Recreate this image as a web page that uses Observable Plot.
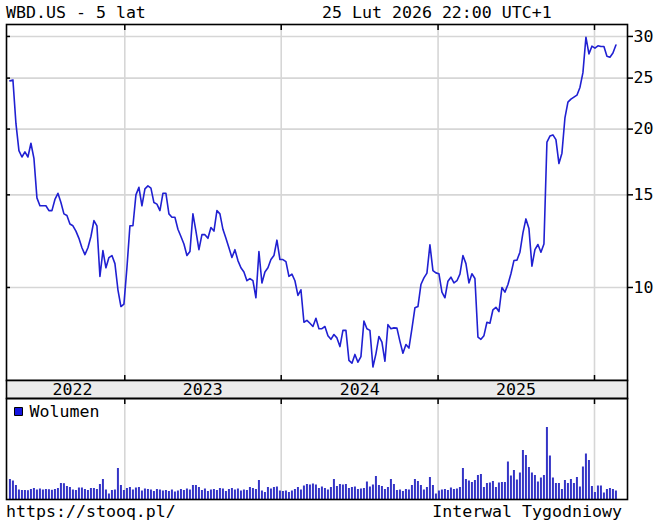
<!DOCTYPE html>
<html><head><meta charset="utf-8">
<script src="https://cdn.jsdelivr.net/npm/d3@7"></script>
<script src="https://cdn.jsdelivr.net/npm/@observablehq/plot@0.6"></script>
<style>
body{margin:0;background:#fff;}
#wrap{position:relative;width:654px;height:524px;font-family:"DejaVu Sans Mono",monospace;font-size:16.6px;color:#000;overflow:hidden;}
.t{position:absolute;white-space:pre;line-height:1;}
#p,#b,#v{position:absolute;left:0;}
</style></head><body>
<div id="wrap">
<div class="t" style="left:6px;top:5px">WBD.US - 5 lat</div>
<div class="t" style="left:322px;top:5px">25 Lut 2026 22:00 UTC+1</div>
<div id="p" style="top:0"></div>
<div id="b" style="top:379px"></div>
<div id="v" style="top:398px"></div>
<div class="t" style="left:6px;top:504px">https://stooq.pl/</div>
<div class="t" style="right:32px;top:504px">Interwal Tygodniowy</div>
</div>
<script>
const startDate = "2022-04-08";
const close = [
24.7,24.8,20.5,18.2,17.7,18.1,17.7,18.8,17.6,14.8,
14.3,14.3,14.3,14.0,14.0,14.7,15.1,14.5,13.8,13.7,
13.2,13.1,12.8,12.4,11.9,11.55,11.9,12.5,13.4,13.1,
10.5,11.75,10.9,11.4,11.5,11.1,9.9,9.2,9.3,10.9,
13.1,13.1,15.0,15.5,14.3,15.4,15.6,15.45,14.5,14.4,
14.0,15.1,15.1,13.8,13.6,13.6,12.9,12.5,12.1,11.5,
11.7,13.8,12.8,11.8,12.6,12.6,12.4,13.0,12.8,14.0,
13.8,12.9,12.4,11.9,11.4,11.8,11.25,10.9,10.7,10.3,
10.4,10.3,9.56,11.7,10.2,10.7,10.9,11.3,11.5,12.3,
11.3,11.3,11.2,10.5,10.6,10.3,9.66,9.9,8.59,8.66,
8.55,8.43,8.74,8.35,8.35,8.43,8.1,7.97,8.14,8.02,
7.72,8.29,8.29,7.27,7.18,7.46,7.21,7.39,8.63,8.35,
8.29,7.06,7.48,8.07,7.87,7.24,8.5,8.35,8.38,8.37,
7.9,7.5,7.79,7.67,8.35,9.15,9.2,10.13,10.43,10.65,
12.05,10.77,10.66,10.62,9.8,9.56,10.28,10.46,10.2,10.3,
10.6,11.5,11.1,10.2,10.62,10.4,8.05,7.97,8.1,8.59,
8.55,9.07,9.17,9.0,10.0,9.8,10.13,10.62,11.25,11.27,
11.67,12.7,13.5,12.95,10.98,11.8,12.07,11.67,12.1,18.9,
19.4,19.5,19.1,17.2,18.0,21.0,22.5,22.8,23.0,23.2,
24.0,25.6,29.9,27.8,28.75,28.5,28.8,28.7,28.7,27.5,
27.4,27.9,28.9];
const volume = [
200,185,140,95,90,90,88,100,110,95,
105,95,100,98,92,100,110,160,158,130,
120,95,90,115,115,100,90,110,110,100,
150,200,95,55,90,95,310,140,90,110,
120,95,115,120,85,105,100,95,80,100,
95,85,90,80,95,75,85,100,90,105,
95,140,140,120,90,105,80,95,100,90,
110,105,80,100,110,95,105,85,95,90,
120,110,100,190,85,70,120,105,120,125,
85,80,85,70,85,100,120,95,135,150,
145,155,145,110,125,110,95,120,200,130,
150,145,150,110,120,125,100,105,110,175,
125,145,230,140,130,100,120,200,150,90,
95,80,100,95,140,200,180,140,95,120,
220,140,55,85,95,100,90,115,100,105,
120,310,200,185,170,190,240,250,120,160,
165,180,120,165,170,170,375,235,290,195,
265,490,440,320,265,240,175,215,240,720,
435,215,160,160,100,190,160,200,160,220,
125,325,455,390,130,70,135,135,65,100,
110,100,85];
const priceTicks = [10, 15, 20, 25, 30];
const yearStarts = ["2023-01-01", "2024-01-01", "2025-01-01", "2026-01-01"];
const yearLabels = ["2022", "2023", "2024", "2025"];
const yearLabelDates = ["2022-09-01", "2023-07-02", "2024-07-02", "2025-07-02"];
const xDomain = ["2022-03-31", "2026-03-19"];
const priceDomain = [6.656, 31.61];
const volumeDomain = [0, 1010];

const t0 = new Date(startDate);
const data = close.map((c, i) => ({date: d3.utcDay.offset(t0, 7 * i), close: c, volume: volume[i]}));
const yearDates = yearStarts.map(d => new Date(d));
const labels = yearLabels.map((l, i) => ({label: l, date: new Date(yearLabelDates[i])}));
const xs = {type: "utc", domain: xDomain.map(d => new Date(d))};
const style = {fontFamily: "DejaVu Sans Mono, monospace", fontSize: "16.6px", background: "transparent", color: "#000", overflow: "visible"};
const grid = "#d6d6d6";

const price = Plot.plot({
  width: 654, height: 380, marginTop: 24, marginBottom: 0, marginLeft: 6, marginRight: 27,
  style, x: xs,
  y: {type: "log", domain: priceDomain, label: null},
  marks: [
    Plot.gridY(priceTicks, {stroke: grid, strokeOpacity: 1, strokeWidth: 1.6}),
    Plot.gridX(yearDates, {stroke: grid, strokeOpacity: 1, strokeWidth: 1.6}),
    Plot.line(data, {x: "date", y: "close", stroke: "#2020d2", strokeWidth: 1.6}),
    Plot.axisY(priceTicks, {anchor: "right", tickSize: 5, tickPadding: 1, label: null, tickFormat: d => String(d), stroke: "#000", strokeWidth: 1.5}),
    Plot.axisY(priceTicks, {anchor: "left", tickSize: -4, fill: "none", label: null, stroke: "#000", strokeWidth: 1.5}),
    Plot.axisX(yearDates, {anchor: "top", tickSize: -5, fill: "none", label: null, stroke: "#000", strokeWidth: 1.5}),
    Plot.axisX(yearDates, {anchor: "bottom", tickSize: -5, fill: "none", label: null, stroke: "#000", strokeWidth: 1.5}),
    Plot.frame({stroke: "#000", strokeWidth: 1.6})
  ]
});
document.getElementById("p").append(price);

const band = Plot.plot({
  width: 654, height: 20, marginTop: 1, marginBottom: 1, marginLeft: 6, marginRight: 27,
  style, x: {...xs, axis: null},
  marks: [
    Plot.frame({fill: "#ebebeb", stroke: "#000", strokeWidth: 1.6}),
    Plot.text(labels, {x: "date", text: "label", fill: "#000"})
  ]
});
document.getElementById("b").append(band);

const vol = Plot.plot({
  width: 654, height: 102, marginTop: 0, marginBottom: 1, marginLeft: 6, marginRight: 27,
  style, x: xs,
  y: {domain: volumeDomain, axis: null},
  marks: [
    Plot.gridX(yearDates, {stroke: grid, strokeOpacity: 1, strokeWidth: 1.6}),
    Plot.ruleX(data, {x: "date", y: "volume", stroke: "#3434c6", strokeWidth: 2}),
    Plot.axisX(yearDates, {anchor: "top", tickSize: -5, fill: "none", label: null, stroke: "#000", strokeWidth: 1.5}),
    Plot.dot([0], {frameAnchor: "top-left", dx: 12, dy: 13, symbol: "square", r: 4.5, fill: "#1414e0", stroke: "#000", strokeWidth: 1}),
    Plot.text(["Wolumen"], {frameAnchor: "top-left", dx: 23, dy: 13, textAnchor: "start", lineAnchor: "middle", fill: "#000"}),
    Plot.frame({stroke: "#000", strokeWidth: 1.6})
  ]
});
document.getElementById("v").append(vol);
</script>
</body></html>
